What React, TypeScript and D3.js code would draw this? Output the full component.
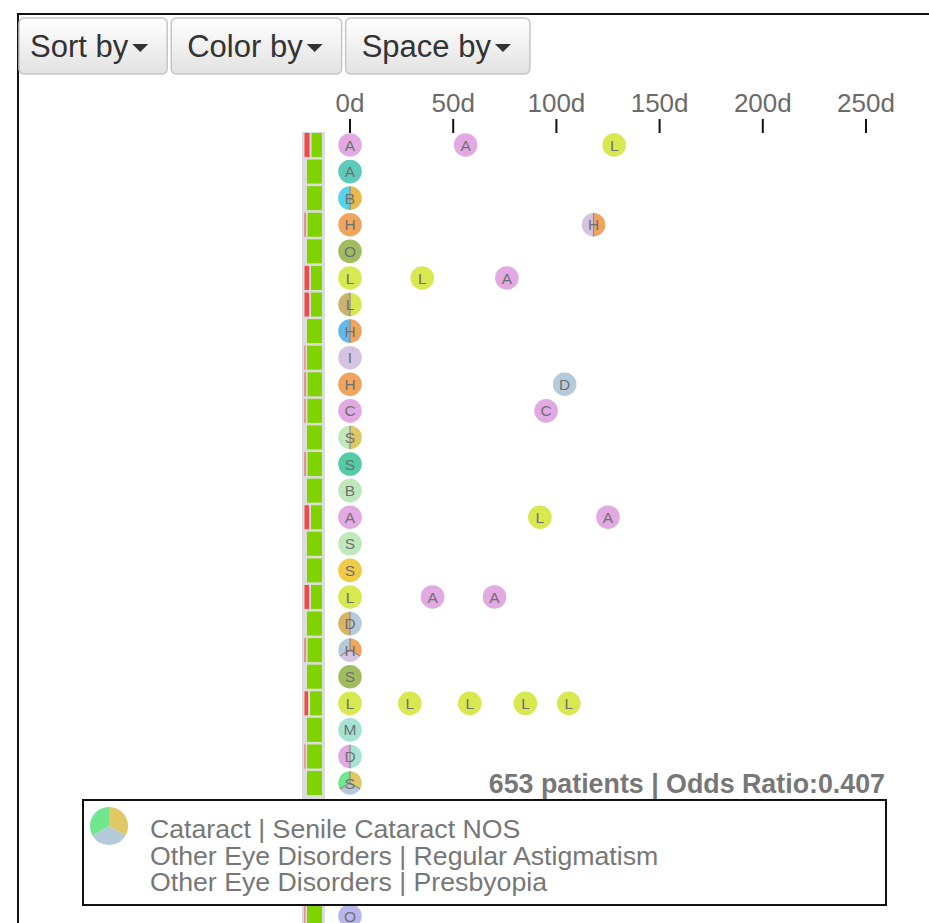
import React, { useEffect, useRef } from 'react';
import * as d3 from 'd3';

// toolbar
const buttonLabels = ['Sort by', 'Color by', 'Space by'];

// axis (days since index event)
const dayDomain = [0, 250];
const dayTicks = [0, 50, 100, 150, 200, 250];

// palette used by the diagnosis codes
const palette: Record<string, string> = {
  pink: '#e2a9e3',
  teal: '#5dcabb',
  cyan: '#56d2ea',
  amber: '#e9b94c',
  orange: '#f0a45e',
  olive: '#9fbd60',
  lime: '#d7e850',
  khaki: '#c9b46e',
  sky: '#63b9ea',
  lavender: '#d5c3e2',
  steel: '#b6cbd9',
  mint: '#bfe9bb',
  jade: '#53cba4',
  gold: '#f0cb47',
  sand: '#e1c866',
  tan: '#d9b464',
  aqua: '#a5e3d4',
  green: '#70e68e',
  periwinkle: '#b8b6ea',
};

// patient rows (slot = vertical position; 25-28 sit behind the legend)
const rowSlots = [0, 1, 2, 3, 4, 5, 6, 7, 8, 9, 10, 11, 12, 13, 14, 15, 16, 17, 18, 19, 20, 21, 22, 23, 24, 29];
const rowCodes = ['A', 'A', 'B', 'H', 'O', 'L', 'L', 'H', 'I', 'H', 'C', 'S', 'S', 'B', 'A', 'S', 'S', 'L', 'D', 'H', 'S', 'L', 'M', 'D', 'S', 'O'];
const rowColors = [
  ['pink'], ['teal'], ['amber', 'cyan'], ['orange'], ['olive'], ['lime'], ['lime', 'khaki'],
  ['orange', 'sky'], ['lavender'], ['orange'], ['pink'], ['sand', 'mint'], ['jade'], ['mint'],
  ['pink'], ['mint'], ['gold'], ['lime'], ['steel', 'tan'], ['orange', 'lavender', 'steel'],
  ['olive'], ['lime'], ['aqua'], ['aqua', 'pink'], ['sand', 'steel', 'green'], ['periwinkle'],
];
// share of red (risk) in the left bar
const rowRisk = [0.28, 0, 0, 0.06, 0, 0.25, 0.25, 0, 0.03, 0.06, 0.05, 0, 0.06, 0, 0.25, 0, 0, 0.25, 0, 0.06, 0, 0.2, 0, 0.03, 0, 0.02];

// later events per row
const eventSlots = [0, 0, 3, 5, 5, 9, 10, 14, 14, 17, 17, 21, 21, 21, 21];
const eventDays = [56, 128, 118, 35, 76, 104, 95, 92, 125, 40, 70, 29, 58, 85, 106];
const eventCodes = ['A', 'L', 'H', 'L', 'A', 'D', 'C', 'L', 'A', 'A', 'A', 'L', 'L', 'L', 'L'];
const eventColors = [
  ['pink'], ['lime'], ['orange', 'lavender'], ['lime'], ['pink'], ['steel'], ['pink'],
  ['lime'], ['pink'], ['pink'], ['pink'], ['lime'], ['lime'], ['lime'], ['lime'],
];

// legend / summary
const legendColors = ['sand', 'steel', 'green'];
const legendLabels = [
  'Cataract | Senile Cataract NOS',
  'Other Eye Disorders | Regular Astigmatism',
  'Other Eye Disorders | Presbyopia',
];
const patientCount = 653;
const oddsRatio = 0.407;

const W = 929;
const H = 923;
const FONT = '"Liberation Sans", Arial, Helvetica, sans-serif';

const App: React.FC = () => {
  const svgRef = useRef<SVGSVGElement>(null);

  useEffect(() => {
    if (!svgRef.current) return;
    const svg = d3.select(svgRef.current);
    svg.selectAll('*').remove();

    const defs = svg.append('defs');
    const grad = defs.append('linearGradient').attr('id', 'btnGrad')
      .attr('x1', 0).attr('y1', 0).attr('x2', 0).attr('y2', 1);
    grad.append('stop').attr('offset', '0%').attr('stop-color', '#ffffff');
    grad.append('stop').attr('offset', '100%').attr('stop-color', '#e2e2e2');

    // frame
    svg.append('path')
      .attr('d', `M18,${H} L18,14 L${W},14`)
      .attr('fill', 'none')
      .attr('stroke', '#111')
      .attr('stroke-width', 2);

    // buttons
    let bx = 19;
    buttonLabels.forEach((label, i) => {
      const g = svg.append('g');
      const padL = i === 0 ? 11 : 16;
      const rect = g.append('rect')
        .attr('x', bx).attr('y', 18).attr('height', 56).attr('rx', 5)
        .attr('fill', 'url(#btnGrad)').attr('stroke', '#c6c6c6').attr('stroke-width', 1.5);
      const t = g.append('text')
        .attr('x', bx + padL).attr('y', 57)
        .attr('font-family', FONT).attr('font-size', 31).attr('fill', '#333')
        .text(label);
      const tw = (t.node() as SVGTextElement).getComputedTextLength();
      const cx = bx + padL + tw + 4;
      g.append('path')
        .attr('d', `M${cx},44 L${cx + 16},44 L${cx + 8},52 Z`)
        .attr('fill', '#333');
      const bw = padL + tw + 4 + 16 + 19;
      rect.attr('width', bw);
      bx += bw + 4;
    });

    const x = d3.scaleLinear().domain(dayDomain).range([350, 866]);
    const y = d3.scaleLinear().domain([0, 29]).range([145, 916]);
    const risk = d3.scaleLinear().domain([0, 1]).range([0, 18]);

    // axis
    const axis = svg.append('g');
    dayTicks.forEach(d => {
      axis.append('text')
        .attr('x', x(d)).attr('y', 112)
        .attr('text-anchor', 'middle')
        .attr('font-family', FONT).attr('font-size', 26).attr('fill', '#6a6a6a')
        .text(`${d}d`);
      axis.append('line')
        .attr('x1', x(d)).attr('x2', x(d)).attr('y1', 119).attr('y2', 133)
        .attr('stroke', '#111').attr('stroke-width', 2);
    });

    // left bar strip
    svg.append('rect')
      .attr('x', 302).attr('y', y(0) - 13).attr('width', 23).attr('height', H - y(0) + 13)
      .attr('fill', '#dcdcdc');

    const pie = d3.pie<string>().value(() => 1).sort(null);
    const drawCode = (cx: number, cy: number, colors: string[], code: string, r: number, dividers: boolean, label: boolean) => {
      const g = svg.append('g').attr('transform', `translate(${cx},${cy})`);
      if (colors.length === 1) {
        g.append('circle').attr('r', r).attr('fill', palette[colors[0]]);
      } else {
        const arc = d3.arc<d3.PieArcDatum<string>>().innerRadius(0).outerRadius(r);
        const slices = pie(colors);
        g.selectAll('path.slice').data(slices).enter().append('path')
          .attr('class', 'slice')
          .attr('d', arc)
          .attr('fill', d => palette[d.data]);
        if (dividers) {
          slices.forEach(s => {
            g.append('line')
              .attr('x1', 0).attr('y1', 0)
              .attr('x2', r * Math.sin(s.startAngle)).attr('y2', -r * Math.cos(s.startAngle))
              .attr('stroke', '#8f8f8f').attr('stroke-width', 1.3);
          });
        }
      }
      if (label) {
        g.append('text')
          .attr('text-anchor', 'middle').attr('dy', '0.36em')
          .attr('font-family', FONT).attr('font-size', 15.5).attr('fill', '#707070')
          .text(code);
      }
    };

    rowSlots.forEach((slot, i) => {
      const cy = y(slot);
      const rw = risk(rowRisk[i]);
      if (rw > 0) {
        svg.append('rect')
          .attr('x', 304.5).attr('y', cy - 12).attr('width', Math.max(rw, 0.8)).attr('height', 24)
          .attr('fill', '#f24a4a');
      }
      const gx = 304 + Math.max(3, rw + 2.5);
      svg.append('rect')
        .attr('x', gx).attr('y', cy - 12).attr('width', 322 - gx).attr('height', 24)
        .attr('fill', '#7fd400');
      drawCode(x(0), cy, rowColors[i], rowCodes[i], 11.8, true, true);
    });

    eventSlots.forEach((slot, i) => {
      drawCode(x(eventDays[i]), y(slot), eventColors[i], eventCodes[i], 11.8, true, true);
    });

    // summary
    svg.append('text')
      .attr('x', 885).attr('y', 793)
      .attr('text-anchor', 'end')
      .attr('font-family', FONT).attr('font-size', 26.8).attr('font-weight', 'bold').attr('fill', '#777')
      .text(`${patientCount} patients | Odds Ratio:${oddsRatio}`);

    // legend
    svg.append('rect')
      .attr('x', 83).attr('y', 800).attr('width', 803).attr('height', 105)
      .attr('fill', '#fff').attr('stroke', '#111').attr('stroke-width', 2);
    drawCode(109, 826, legendColors, '', 19, false, false);
    legendLabels.forEach((l, i) => {
      svg.append('text')
        .attr('x', 150).attr('y', 838 + i * 26.5)
        .attr('font-family', FONT).attr('font-size', 26.7).attr('fill', '#777')
        .text(l);
    });
  }, []);

  return (
    <svg
      ref={svgRef}
      width={W}
      height={H}
      style={{ position: 'absolute', left: 0, top: 0, background: '#fff' }}
    />
  );
};

export default App;
